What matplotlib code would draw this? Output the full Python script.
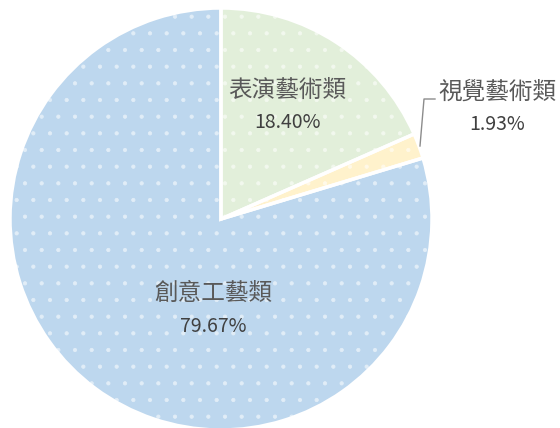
import matplotlib
matplotlib.use("Agg")
import matplotlib.pyplot as plt
import matplotlib.colors as mcolors
import numpy as np

labels = ["表演藝術類", "視覺藝術類", "創意工藝類"]
values = [18.40, 1.93, 79.67]
pct_labels = ["18.40%", "1.93%", "79.67%"]
colors = ["#E2EFDA", "#FFF2CC", "#BDD7EE"]

plt.rcParams['font.family'] = ['Noto Sans CJK TC', 'DejaVu Sans']
plt.rcParams['hatch.linewidth'] = 0.6

W, H = 560, 428
fig = plt.figure(figsize=(W/100, H/100), dpi=100)
cx, cy, r = 221, 219, 211
ax = fig.add_axes([(cx-r)/W, (H-cy-r)/H, 2*r/W, 2*r/H])

# textured fill
wedges, _ = ax.pie(values, colors=colors, startangle=90, counterclock=False, radius=1,
                   wedgeprops=dict(linewidth=0, hatch='.'))
for w, c in zip(wedges, colors):
    rgb = np.array(mcolors.to_rgb(c))
    w.set_edgecolor(tuple(rgb + (1 - rgb) * 0.55))
    w.set_linewidth(0)
    w.set_clip_on(False)
# white separators
outl, _ = ax.pie(values, colors=['none'] * 3, startangle=90, counterclock=False, radius=1,
                 wedgeprops=dict(edgecolor='white', linewidth=2.5))
for w in outl:
    w.set_facecolor('none')
    w.set_clip_on(False)
ax.set_xlim(-1, 1); ax.set_ylim(-1, 1)
ax.set_aspect('equal'); ax.axis('off')

def d(px, py):
    return (px-cx)/r, (cy-py)/r

tc = '#595959'
pos = [(287, 90), (497, 92), (213, 293)]
for lab, pct, (px, py) in zip(labels, pct_labels, pos):
    x, y = d(px, py)
    ax.text(x, y, lab, ha='center', va='center', fontsize=17, color=tc, clip_on=False)
    x2, y2 = d(px, py+33)
    ax.text(x2, y2, pct, ha='center', va='center', fontsize=14, color='#404040', clip_on=False)

pts = [d(420, 146), d(424, 99), d(435, 99)]
ax.plot([p[0] for p in pts], [p[1] for p in pts], color='#8c8c8c', lw=1, clip_on=False)

fig.savefig('out.png', dpi=100)
